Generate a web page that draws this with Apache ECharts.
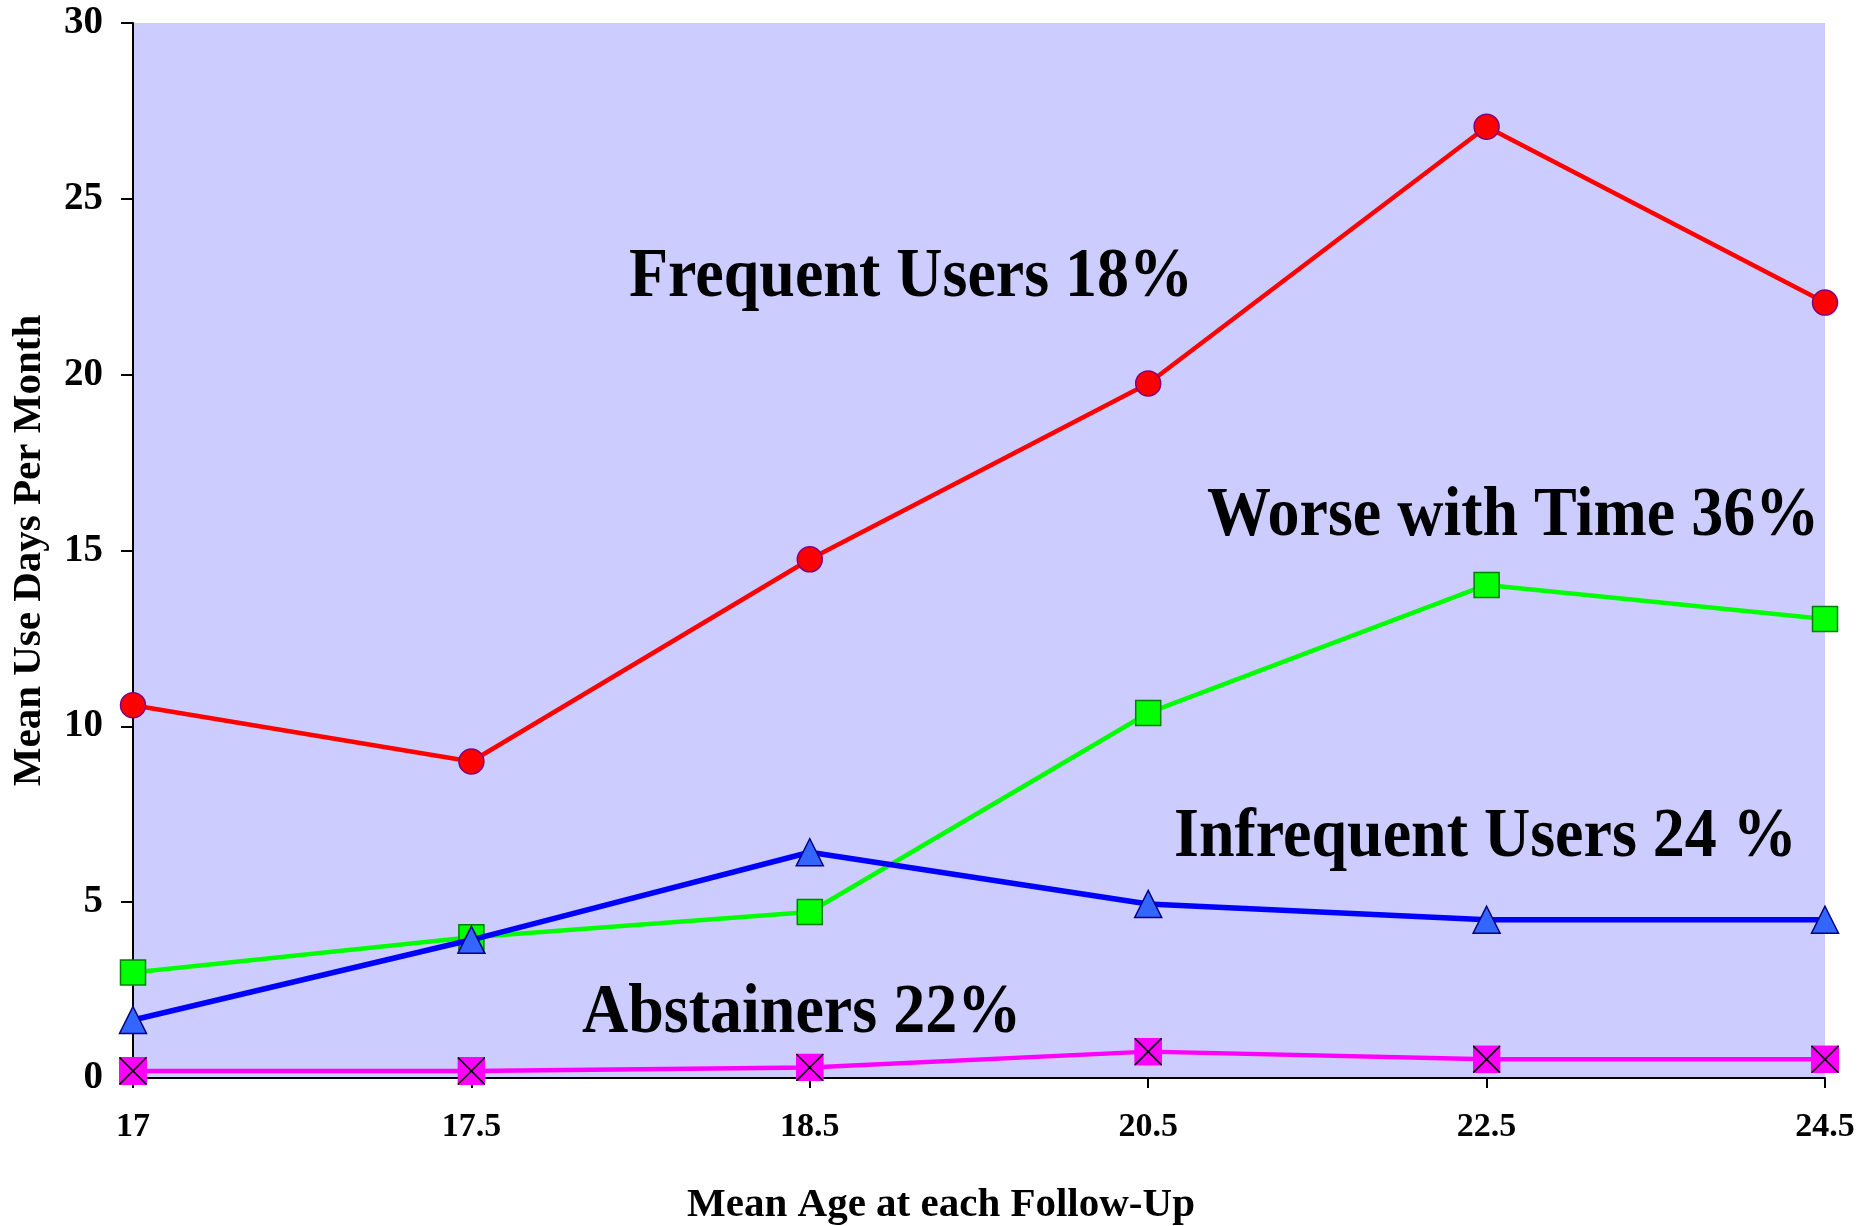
<!DOCTYPE html>
<html>
<head>
<meta charset="utf-8">
<title>Mean Use Days Per Month by Trajectory Group</title>
<script src="https://cdn.jsdelivr.net/npm/echarts@6/dist/echarts.min.js"></script>
<style>
  html, body { margin: 0; padding: 0; background: #ffffff; }
  #chart { width: 1861px; height: 1226px; }
</style>
</head>
<body>
<div id="chart"></div>
<script>
// Mean age at each follow-up wave (category axis)
const ages = ['17', '17.5', '18.5', '20.5', '22.5', '24.5'];

// Mean use days per month for each trajectory group
const frequentUsers   = [10.6, 9.0, 14.75, 19.75, 27.05, 22.05];
const worseWithTime   = [3.0, 4.0, 4.72, 10.38, 14.02, 13.05];
const infrequentUsers = [1.65, 3.93, 6.42, 4.95, 4.5, 4.5];
const abstainers      = [0.2, 0.2, 0.3, 0.75, 0.53, 0.53];

// Group captions written inside the plot
const groupCaptions = ['Frequent Users 18%', 'Worse with Time 36%', 'Infrequent Users 24 %', 'Abstainers 22%'];

// Value axis range
const yMin = 0, yMax = 30, yStep = 5;

const FONT = '"Liberation Serif", "Times New Roman", serif';

// Magenta square with a black cross, used for the abstainer markers
const crossSquare = 'image://data:image/svg+xml;utf8,' + encodeURIComponent(
  '<svg xmlns="http://www.w3.org/2000/svg" width="28" height="28" viewBox="0 0 28 28">' +
  '<rect x="0" y="0" width="28" height="28" fill="#FF00FF"/>' +
  '<line x1="0.5" y1="0.5" x2="27.5" y2="27.5" stroke="#000" stroke-width="1.6"/>' +
  '<line x1="27.5" y1="0.5" x2="0.5" y2="27.5" stroke="#000" stroke-width="1.6"/>' +
  '</svg>');

const chart = echarts.init(document.getElementById('chart'), null, { renderer: 'canvas' });

function caption(text, x, y) {
  return {
    type: 'text',
    left: x,
    top: y,
    z: 5,
    scaleY: 1.08,
    style: {
      text: text,
      fill: '#000000',
      fontFamily: FONT,
      fontWeight: 'bold',
      fontSize: 64
    }
  };
}

const option = {
  animation: false,
  backgroundColor: '#ffffff',
  grid: {
    left: 133, right: 36, top: 23, bottom: 148,
    outerBoundsMode: 'none',
    containLabel: false,
    show: true,
    backgroundColor: '#CCCCFF',
    borderWidth: 0
  },
  xAxis: {
    type: 'category',
    data: ages,
    boundaryGap: false,
    name: 'Mean Age at each Follow-Up',
    nameLocation: 'middle',
    nameGap: 107,
    nameTextStyle: {
      fontFamily: FONT, fontWeight: 'bold', fontSize: 41, color: '#000',
      padding: [0, 76, 0, 0]
    },
    axisLine: { show: true, lineStyle: { color: '#000', width: 2 } },
    axisTick: { show: true, inside: false, length: 10, alignWithLabel: true, lineStyle: { color: '#000', width: 2 } },
    axisLabel: { fontFamily: FONT, fontWeight: 'bold', fontSize: 34, color: '#000', margin: 32 },
    splitLine: { show: false }
  },
  yAxis: {
    type: 'value',
    min: yMin, max: yMax, interval: yStep,
    name: 'Mean Use Days Per Month',
    nameLocation: 'middle',
    nameGap: 83,
    nameRotate: 90,
    nameTextStyle: { fontFamily: FONT, fontWeight: 'bold', fontSize: 41, color: '#000' },
    axisLine: { show: true, lineStyle: { color: '#000', width: 2 } },
    axisTick: { show: true, inside: false, length: 12, lineStyle: { color: '#000', width: 2 } },
    axisLabel: { fontFamily: FONT, fontWeight: 'bold', fontSize: 39, color: '#000', margin: 30 },
    splitLine: { show: false }
  },
  series: [
    {
      name: groupCaptions[0],
      type: 'line',
      data: frequentUsers,
      symbol: 'circle',
      symbolSize: 25,
      lineStyle: { color: '#FF0000', width: 4.5 },
      itemStyle: { color: '#FF0000', borderColor: '#800080', borderWidth: 1.5 },
      emphasis: { disabled: true },
      z: 2
    },
    {
      name: groupCaptions[1],
      type: 'line',
      data: worseWithTime,
      symbol: 'rect',
      symbolSize: 25,
      lineStyle: { color: '#00FF00', width: 4.5 },
      itemStyle: { color: '#00FF00', borderColor: '#008000', borderWidth: 1.5 },
      emphasis: { disabled: true },
      z: 3
    },
    {
      name: groupCaptions[2],
      type: 'line',
      data: infrequentUsers,
      symbol: 'triangle',
      symbolSize: [27, 27],
      lineStyle: { color: '#0000FF', width: 5.5 },
      itemStyle: { color: '#3366FF', borderColor: '#000080', borderWidth: 1.5 },
      emphasis: { disabled: true },
      z: 4
    },
    {
      name: groupCaptions[3],
      type: 'line',
      data: abstainers,
      symbol: crossSquare,
      symbolSize: 28,
      lineStyle: { color: '#FF00FF', width: 4.5 },
      itemStyle: { color: '#FF00FF' },
      emphasis: { disabled: true },
      z: 4
    }
  ],
  graphic: [
    caption(groupCaptions[0], 629, 244),
    caption(groupCaptions[1], 1207, 483),
    caption(groupCaptions[2], 1174, 804),
    caption(groupCaptions[3], 582, 980)
  ]
};

chart.setOption(option);
</script>
</body>
</html>
